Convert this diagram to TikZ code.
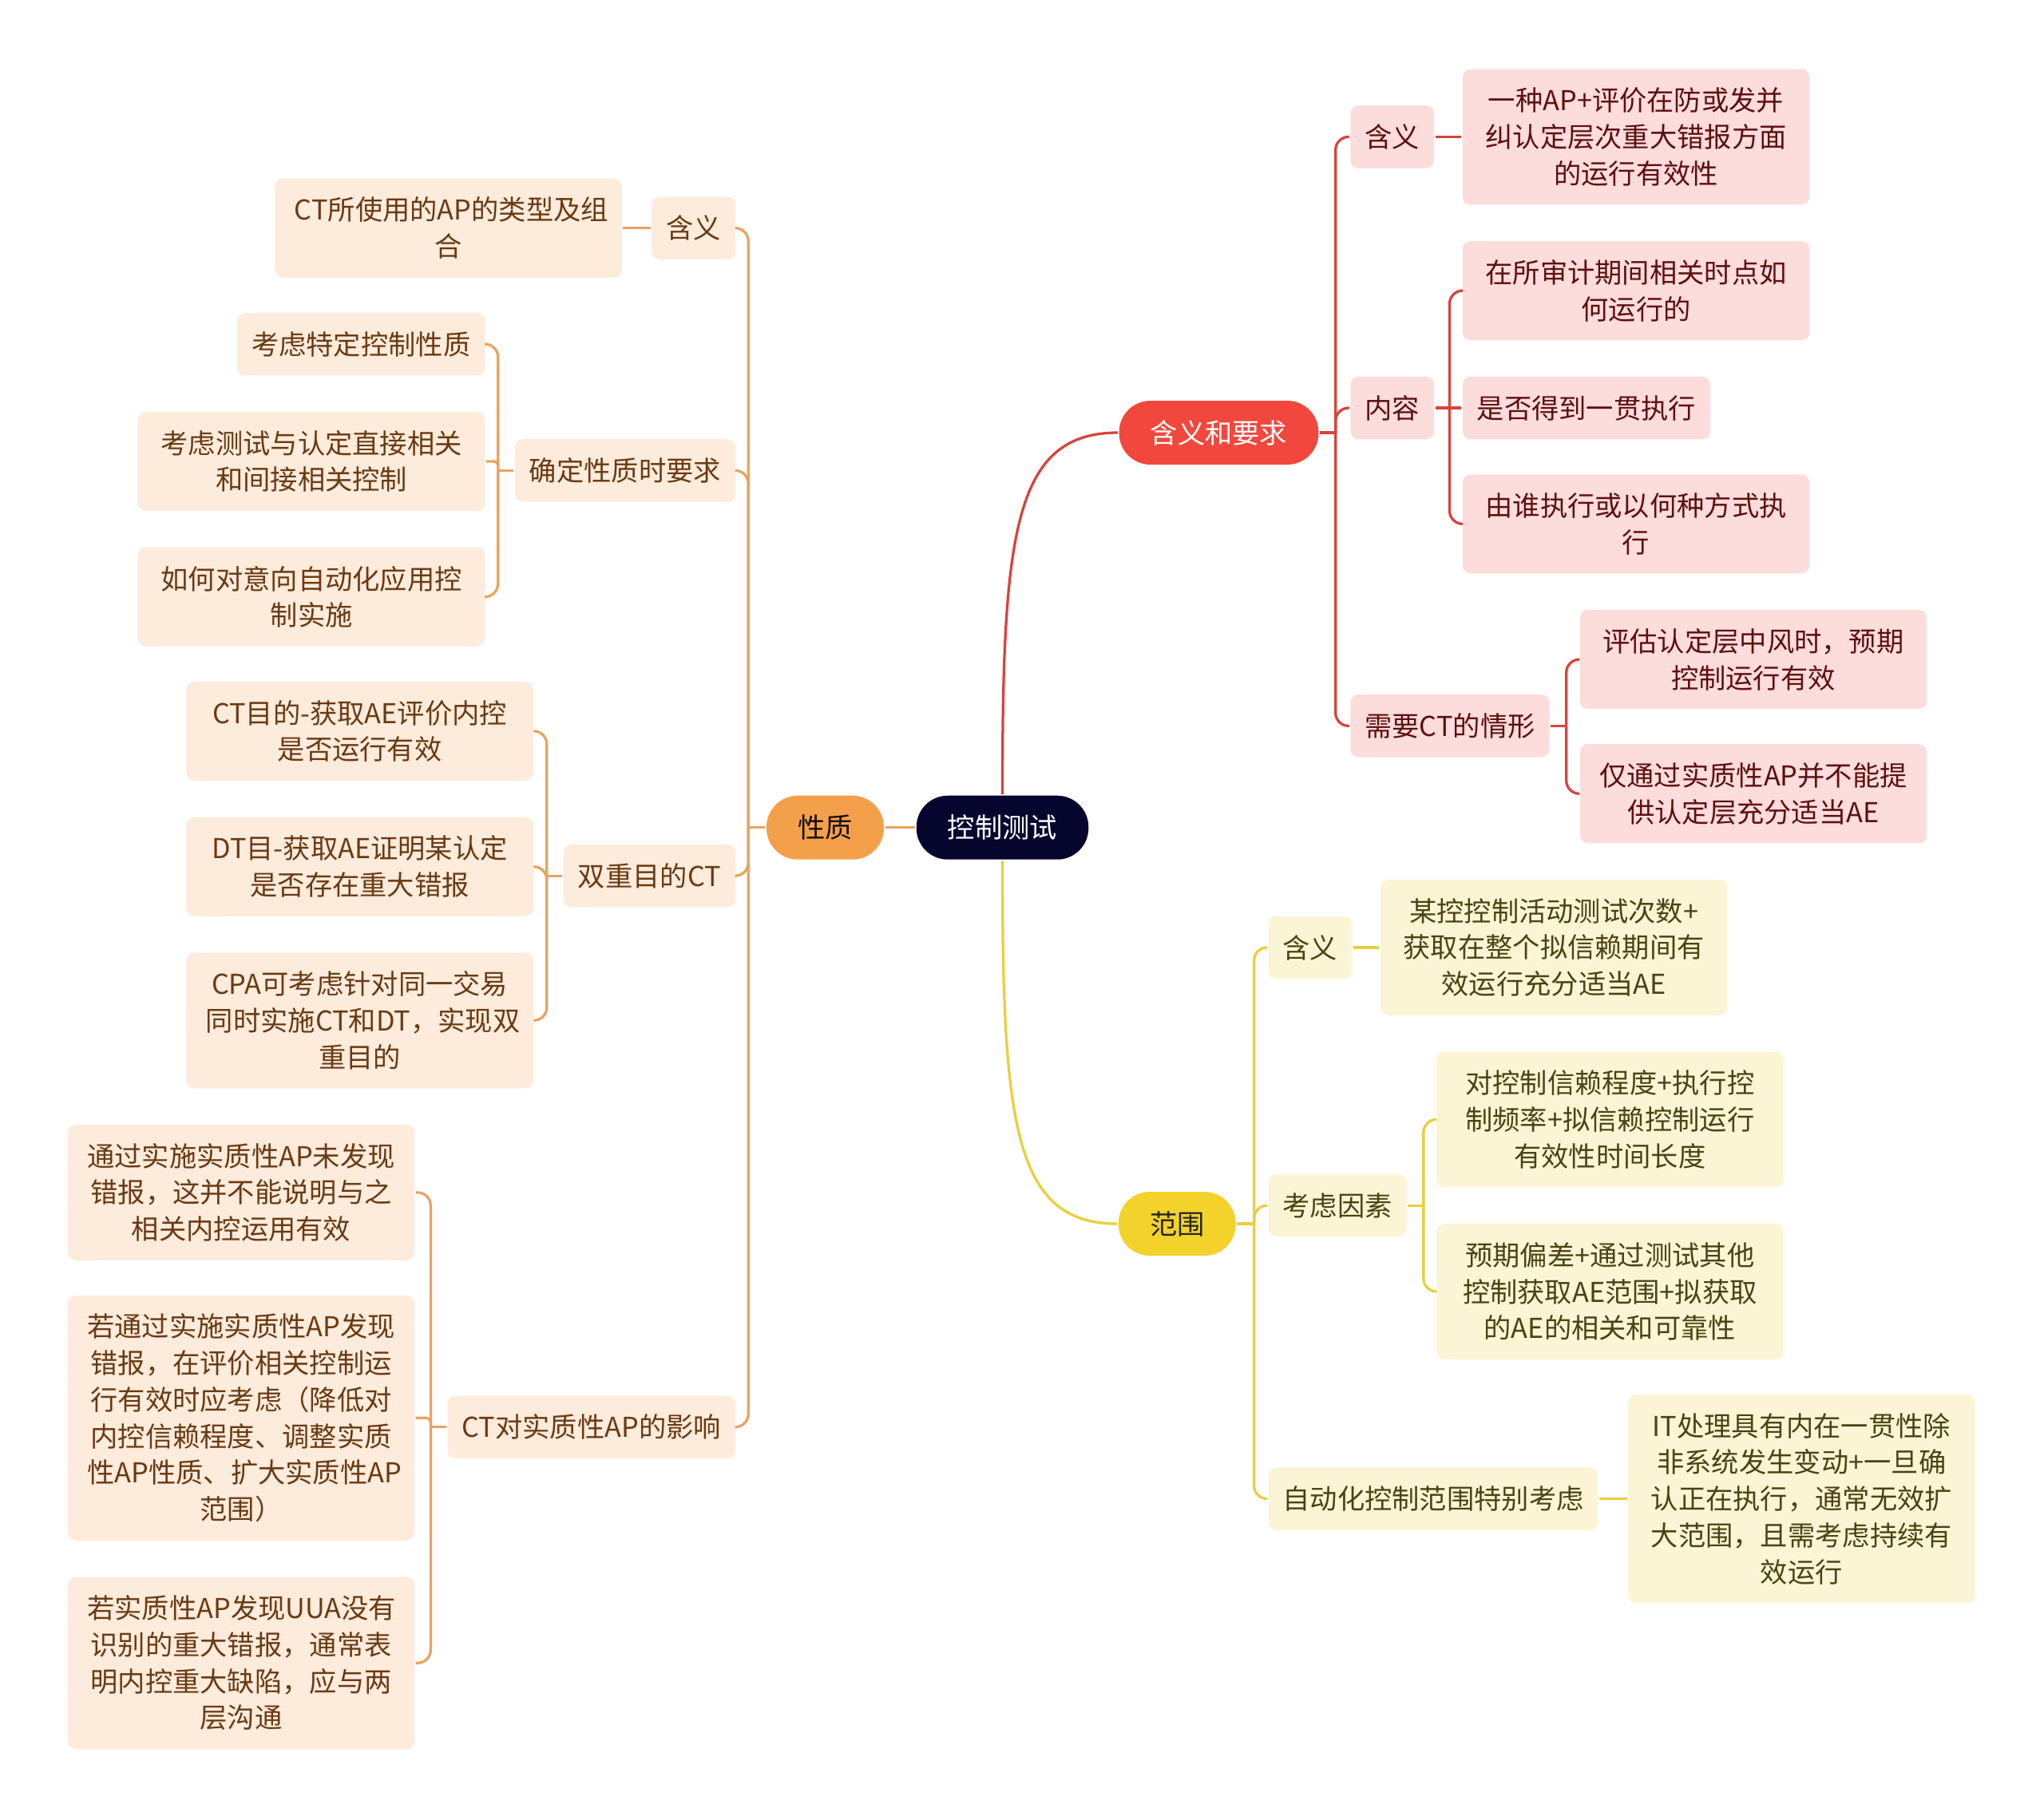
\documentclass[tikz,border=0pt]{standalone}
\usepackage{fontspec}
\setmainfont{Noto Sans CJK SC}
\usetikzlibrary{positioning}

\definecolor{rootbg}{HTML}{05052E}
\definecolor{redmain}{HTML}{F2473D}
\definecolor{redline}{HTML}{D8433B}
\definecolor{redleaf}{HTML}{FDDCDC}
\definecolor{redtext}{HTML}{5E0F0F}
\definecolor{orgmain}{HTML}{F4A04B}
\definecolor{orgline}{HTML}{E9A35E}
\definecolor{orgleaf}{HTML}{FDEBDC}
\definecolor{orgtext}{HTML}{6A3A12}
\definecolor{ylwmain}{HTML}{F3D22B}
\definecolor{ylwline}{HTML}{E9CF3C}
\definecolor{ylwleaf}{HTML}{FCF5D5}
\definecolor{ylwtext}{HTML}{4C4212}

\tikzset{
  pill/.style={rounded corners=24pt, inner xsep=24pt, inner ysep=4pt, minimum height=49pt},
  box/.style={rounded corners=6pt, inner xsep=11pt, inner ysep=4pt, align=center},
  leaf/.style={box, text width=236pt, inner xsep=15pt},
  nl/.style={minimum height=20pt+28pt*#1},
  rb/.style={fill=redleaf, text=redtext},
  ob/.style={fill=orgleaf, text=orgtext},
  yb/.style={fill=ylwleaf, text=ylwtext}
}

\begin{document}
\begin{tikzpicture}[x=1pt, y=-1pt, font=\fontsize{21}{28}\selectfont, line width=2pt]

    \fill[white] (0,0) rectangle (1568,1396);
    \useasboundingbox (0,0) rectangle (1568,1396);

    %define main nodes
    \node[pill, fill=rootbg, text=white] (root) at (769,635) {控制测试};
    \node[pill, fill=redmain, text=white] (hy) at (935,332) {含义和要求};
    \node[pill, fill=ylwmain, text=black!85] (fw) at (903,939) {范围};
    \node[pill, fill=orgmain, text=black!80!orgtext] (xz) at (633,635) {性质};

    %define red branch
    \node[box, rb, nl=1, anchor=west] (r1) at (1035,105) {含义};
    \node[box, rb, nl=1, anchor=west] (r2) at (1035,313) {内容};
    \node[box, rb, nl=1, anchor=west] (r3) at (1035,557) {需要CT的情形};
    \node[leaf, rb, nl=3, anchor=west] (r1a) at (1121,105) {一种AP+评价在防或发并\\纠认定层次重大错报方面\\的运行有效性};
    \node[leaf, rb, nl=2, anchor=west] (r2a) at (1121,223) {在所审计期间相关时点如\\何运行的};
    \node[box, rb, nl=1, anchor=west] (r2b) at (1121,313) {是否得到一贯执行};
    \node[leaf, rb, nl=2, anchor=west] (r2c) at (1121,402) {由谁执行或以何种方式执\\行};
    \node[leaf, rb, nl=2, anchor=west] (r3a) at (1211,506) {评估认定层中风时，预期\\控制运行有效};
    \node[leaf, rb, nl=2, anchor=west] (r3b) at (1211,609) {仅通过实质性AP并不能提\\供认定层充分适当AE};

    %define yellow branch
    \node[box, yb, nl=1, anchor=west] (y1) at (972,727) {含义};
    \node[box, yb, nl=1, anchor=west] (y2) at (972,925) {考虑因素};
    \node[box, yb, nl=1, anchor=west] (y3) at (972,1150) {自动化控制范围特别考虑};
    \node[leaf, yb, nl=3, anchor=west] (y1a) at (1058,727) {某控控制活动测试次数+\\获取在整个拟信赖期间有\\效运行充分适当AE};
    \node[leaf, yb, nl=3, anchor=west] (y2a) at (1101,859) {对控制信赖程度+执行控\\制频率+拟信赖控制运行\\有效性时间长度};
    \node[leaf, yb, nl=3, anchor=west] (y2b) at (1101,991) {预期偏差+通过测试其他\\控制获取AE范围+拟获取\\的AE的相关和可靠性};
    \node[leaf, yb, nl=5, anchor=west] (y3a) at (1248,1150) {IT处理具有内在一贯性除\\非系统发生变动+一旦确\\认正在执行，通常无效扩\\大范围，且需考虑持续有\\效运行};

    %define orange branch
    \node[box, ob, nl=1, anchor=east] (o1) at (565,175) {含义};
    \node[box, ob, nl=1, anchor=east] (o2) at (565,361) {确定性质时要求};
    \node[box, ob, nl=1, anchor=east] (o3) at (565,672) {双重目的CT};
    \node[box, ob, nl=1, anchor=east] (o4) at (565,1095) {CT对实质性AP的影响};
    \node[leaf, ob, nl=2, anchor=east] (o1a) at (478,175) {CT所使用的AP的类型及组\\合};
    \node[box, ob, nl=1, anchor=east] (o2a) at (373,264) {考虑特定控制性质};
    \node[leaf, ob, nl=2, anchor=east] (o2b) at (373,354) {考虑测试与认定直接相关\\和间接相关控制};
    \node[leaf, ob, nl=2, anchor=east] (o2c) at (373,458) {如何对意向自动化应用控\\制实施};
    \node[leaf, ob, nl=2, anchor=east] (o3a) at (410,561) {CT目的-获取AE评价内控\\是否运行有效};
    \node[leaf, ob, nl=2, anchor=east] (o3b) at (410,665) {DT目-获取AE证明某认定\\是否存在重大错报};
    \node[leaf, ob, nl=3, anchor=east] (o3c) at (410,783) {CPA可考虑针对同一交易\\同时实施CT和DT，实现双\\重目的};
    \node[leaf, ob, nl=3, anchor=east] (o4a) at (319,915) {通过实施实质性AP未发现\\错报，这并不能说明与之\\相关内控运用有效};
    \node[leaf, ob, nl=6, anchor=east] (o4b) at (319,1088) {若通过实施实质性AP发现\\错报，在评价相关控制运\\行有效时应考虑（降低对\\内控信赖程度、调整实质\\性AP性质、扩大实质性AP\\范围）};
    \node[leaf, ob, nl=4, anchor=east] (o4c) at (319,1276) {若实质性AP发现UUA没有\\识别的重大错报，通常表\\明内控重大缺陷，应与两\\层沟通};

    %define the links
    \draw[redline] (root.north) .. controls +(0,-200) and +(-80,0) .. (hy.west);
    \draw[ylwline] (root.south) .. controls +(0,200) and +(-80,0) .. (fw.west);
    \draw[orgline] (root.west) -- (xz.east);

    %red links
    \draw[redline] (hy.east) -- ++(12,0) coordinate (hs);
    \foreach \c in {r1,r2,r3} \draw[redline, rounded corners=10pt] (hs) |- (\c.west);
    \draw[redline] (r1.east) -- (r1a.west);
    \draw[redline] (r2.east) -- ++(11,0) coordinate (ns) -- (r2b.west);
    \foreach \c in {r2a,r2c} \draw[redline, rounded corners=10pt] (ns) |- (\c.west);
    \draw[redline] (r3.east) -- ++(12,0) coordinate (qs);
    \foreach \c in {r3a,r3b} \draw[redline, rounded corners=10pt] (qs) |- (\c.west);

    %yellow links
    \draw[ylwline] (fw.east) -- ++(13,0) coordinate (fs);
    \foreach \c in {y1,y2,y3} \draw[ylwline, rounded corners=10pt] (fs) |- (\c.west);
    \draw[ylwline] (y1.east) -- (y1a.west);
    \draw[ylwline] (y2.east) -- ++(12,0) coordinate (ks);
    \foreach \c in {y2a,y2b} \draw[ylwline, rounded corners=10pt] (ks) |- (\c.west);
    \draw[ylwline] (y3.east) -- (y3a.west);

    %orange links
    \draw[orgline] (xz.west) -- ++(-13,0) coordinate (xs);
    \foreach \c in {o1,o2,o3,o4} \draw[orgline, rounded corners=10pt] (xs) |- (\c.east);
    \draw[orgline] (o1.west) -- (o1a.east);
    \draw[orgline] (o2.west) -- ++(-12,0) coordinate (ds);
    \foreach \c/\r in {o2a/10,o2b/3,o2c/10} \draw[orgline, rounded corners=\r pt] (ds) |- (\c.east);
    \draw[orgline] (o3.west) -- ++(-12,0) coordinate (ss);
    \foreach \c in {o3a,o3b,o3c} \draw[orgline, rounded corners=10pt] (ss) |- (\c.east);
    \draw[orgline] (o4.west) -- ++(-12,0) coordinate (cs);
    \foreach \c/\r in {o4a/10,o4b/3,o4c/10} \draw[orgline, rounded corners=\r pt] (cs) |- (\c.east);

\end{tikzpicture}
\end{document}
